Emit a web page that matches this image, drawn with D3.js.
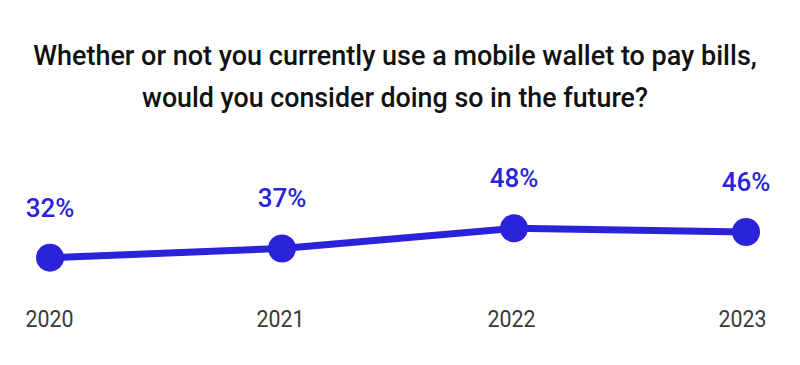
<!DOCTYPE html>
<html>
<head>
<meta charset="utf-8">
<script src="https://cdn.jsdelivr.net/npm/d3@7"></script>
<style>
  body { margin: 0; background: #fff; }
  svg { display: block; font-family: Roboto, "Noto Sans", sans-serif; }
</style>
</head>
<body>
<div id="chart"></div>
<script>
// data
var years = ["2020", "2021", "2022", "2023"];
var values = [32, 37, 48, 46];
var titleLines = [
  "Whether or not you currently use a mobile wallet to pay bills,",
  "would you consider doing so in the future?"
];

var width = 800, height = 365;
var blue = "#2a23da";

var svg = d3.select("#chart").append("svg")
  .attr("width", width)
  .attr("height", height);

// title, squeezed a bit to the narrower original font
var titleWidths = [725, 506];
svg.selectAll(".title")
  .data(titleLines)
  .enter().append("text")
  .attr("class", "title")
  .attr("x", 395)
  .attr("y", function(d, i) { return 65 + i * 42; })
  .attr("text-anchor", "middle")
  .style("font-size", "27px")
  .style("font-weight", 500)
  .style("fill", "#111")
  .text(function(d) { return d; })
  .each(function(d, i) {
    if (this.getComputedTextLength() > titleWidths[i]) {
      d3.select(this).attr("textLength", titleWidths[i]).attr("lengthAdjust", "spacingAndGlyphs");
    }
  });

// scales
var xScale = d3.scalePoint().domain(years).range([50, 746]);
var xLabelScale = d3.scalePoint().domain(years).range([49, 742]);
var yScale = d3.scaleLinear().domain([30, 50]).range([261.3, 224.7]);

var points = years.map(function(y, i) { return {year: y, value: values[i]}; });

// line
var line = d3.line()
  .x(function(d) { return xScale(d.year); })
  .y(function(d) { return yScale(d.value); });

svg.append("path")
  .datum(points)
  .attr("d", line)
  .attr("fill", "none")
  .attr("stroke", blue)
  .attr("stroke-width", 7);

// dots
svg.selectAll(".dot")
  .data(points)
  .enter().append("circle")
  .attr("class", "dot")
  .attr("cx", function(d) { return xScale(d.year); })
  .attr("cy", function(d) { return yScale(d.value); })
  .attr("r", 14)
  .style("fill", blue);

// value labels
svg.selectAll(".val")
  .data(points)
  .enter().append("text")
  .attr("class", "val")
  .attr("x", function(d) { return xScale(d.year); })
  .attr("y", function(d) { return yScale(d.value) - 41; })
  .attr("text-anchor", "middle")
  .style("font-size", "26px")
  .style("font-weight", 500)
  .style("fill", blue)
  .text(function(d) { return d.value + "%"; });

// x axis, labels only
var xAxis = d3.axisBottom(xLabelScale).tickSize(0).tickPadding(0);
var gx = svg.append("g")
  .attr("transform", "translate(0,311)")
  .call(xAxis);
gx.select(".domain").remove();
gx.selectAll("text")
  .attr("dy", "0.71em")
  .attr("textLength", 48)
  .attr("lengthAdjust", "spacingAndGlyphs")
  .style("font-family", "Roboto, 'Noto Sans', sans-serif")
  .style("font-size", "23px")
  .style("fill", "#3a3a3a");
</script>
</body>
</html>
